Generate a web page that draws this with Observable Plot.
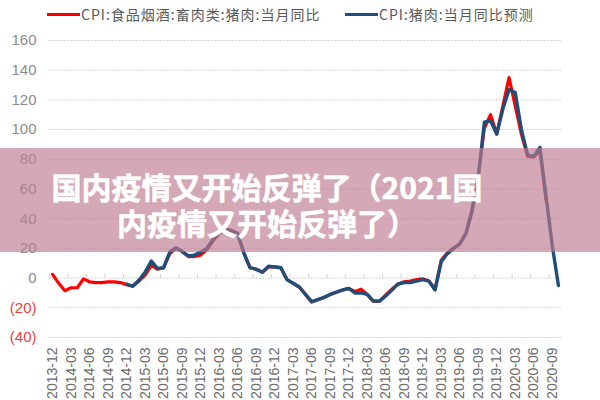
<!DOCTYPE html>
<html>
<head>
<meta charset="utf-8">
<script src="https://cdn.jsdelivr.net/npm/d3@7"></script>
<script src="https://cdn.jsdelivr.net/npm/@observablehq/plot@0.6"></script>
<style>
  html, body { margin: 0; padding: 0; background: #fff; }
  #wrap { position: relative; width: 600px; height: 400px; overflow: hidden; }
  #chart { position: absolute; left: 0; top: 0; }
  .legend { position: absolute; top: 4px; left: 0; width: 600px; height: 20px; font-family: "Noto Sans CJK SC", sans-serif; font-size: 14px; color: #595959; letter-spacing: 1px; }
  .legend .item { position: absolute; top: 0; display: flex; align-items: center; height: 20px; white-space: nowrap; }
  .legend .swatch { width: 33px; height: 3px; margin-right: 1px; }
  .banner { position: absolute; left: 0; top: 148px; width: 600px; height: 104px; background: rgba(189,121,143,0.65); }
  .banner-line { position: absolute; left: 0; width: 534px; height: 31px; text-align: center; color: #fff; font-family: "Noto Sans CJK SC", sans-serif; font-weight: 700; font-size: 30px; line-height: 31px; white-space: nowrap; -webkit-text-stroke: 0.6px #fff; }
</style>
</head>
<body>
<div id="wrap">
  <div id="chart"></div>
  <div class="legend">
    <div class="item" style="left:47px"><span class="swatch" style="background:#ff0000"></span><span>CPI:食品烟酒:畜肉类:猪肉:当月同比</span></div>
    <div class="item" style="left:345px"><span class="swatch" style="background:#1f4e79"></span><span>CPI:猪肉:当月同比预测</span></div>
  </div>
  <div class="banner"></div>
  <div class="banner-line" style="top:171px">国内疫情又开始反弹了（2021国</div>
  <div class="banner-line" style="top:207px">内疫情又开始反弹了）</div>
</div>
<script>
// Category months (index 0 = 2013-12)
const months = [
  "2013-12",
  "2014-01","2014-02","2014-03","2014-04","2014-05","2014-06","2014-07","2014-08","2014-09","2014-10","2014-11","2014-12",
  "2015-01","2015-02","2015-03","2015-04","2015-05","2015-06","2015-07","2015-08","2015-09","2015-10","2015-11","2015-12",
  "2016-01","2016-02","2016-03","2016-04","2016-05","2016-06","2016-07","2016-08","2016-09","2016-10","2016-11","2016-12",
  "2017-01","2017-02","2017-03","2017-04","2017-05","2017-06","2017-07","2017-08","2017-09","2017-10","2017-11","2017-12",
  "2018-01","2018-02","2018-03","2018-04","2018-05","2018-06","2018-07","2018-08","2018-09","2018-10","2018-11","2018-12",
  "2019-01","2019-02","2019-03","2019-04","2019-05","2019-06","2019-07","2019-08","2019-09","2019-10","2019-11","2019-12",
  "2020-01","2020-02","2020-03","2020-04","2020-05","2020-06","2020-07","2020-08","2020-09","2020-10"
];

// Tick labels shown on the x axis
const xTickLabels = [
  "2013-12","2014-03","2014-06","2014-09","2014-12","2015-03","2015-06","2015-09","2015-12",
  "2016-03","2016-06","2016-09","2016-12","2017-03","2017-06","2017-09","2017-12",
  "2018-03","2018-06","2018-09","2018-12","2019-03","2019-06","2019-09","2019-12",
  "2020-03","2020-06","2020-09"
];

const yTicks = [-40, -20, 0, 20, 40, 60, 80, 100, 120, 140, 160];

// CPI:食品烟酒:畜肉类:猪肉:当月同比 (2013-12 .. 2020-08)
const actualStart = "2013-12";
const actualValues = [
  2.5, -3.5, -8.5, -6.5, -6.5, -0.5, -2.5, -3, -3, -2.5, -2.5, -3, -4.5,
  -5.5, -2, 2, 8.5, 6, 7, 16.5, 20, 18, 14.5, 14.5, 15.5,
  19, 25, 30, 33, 32, 30, 17, 7, 6, 4, 7.5, 7.5,
  7, -1, -3.5, -6, -11, -16, -14.5, -13, -11, -9.5, -8, -7,
  -9, -7.5, -11, -15.5, -15.5, -11.5, -7.5, -4, -2.5, -2, -1, -0.5,
  -2, -7.5, 12, 17, 20, 23, 30, 46, 69, 101, 110, 97,
  116, 135, 116, 97, 82, 81.5, 85.5, 52.5
];

// CPI:猪肉:当月同比预测 (2014-12 .. 2020-10)
const forecastStart = "2014-12";
const forecastValues = [
  -4,
  -5.5, -1.5, 4, 11.5, 6.5, 7, 17.5, 20.5, 18, 15, 15.5, 17.5,
  20, 26, 30, 33, 32, 30, 17, 7, 6, 4, 8, 7.5,
  7, -1, -3.5, -6, -11, -16, -14.5, -13, -11, -9.5, -8, -7,
  -10, -10, -11, -15.5, -15.5, -12, -8, -4, -3, -3, -2, -1,
  -2, -8, 11, 16.5, 20, 23, 30, 45, 68, 105, 106, 97,
  114, 127, 125, 100, 83, 82, 88, 55, 22, -5
];

const toRows = (start, vals) => {
  const s = months.indexOf(start);
  return vals.map((v, i) => ({i: s + i, month: months[s + i], v}));
};
const actual = toRows(actualStart, actualValues);
const forecast = toRows(forecastStart, forecastValues);
const xTickIdx = xTickLabels.map(l => months.indexOf(l));
const zeroTicks = xTickIdx.map(i => ({x: i - 0.5}));

const chart = Plot.plot({
  width: 600,
  height: 400,
  marginTop: 40,
  marginBottom: 63,
  marginLeft: 49,
  marginRight: 39,
  style: {background: "transparent", fontFamily: "'Liberation Sans', Arial, sans-serif"},
  x: {type: "linear", domain: [-0.5, months.length - 0.5]},
  y: {domain: [-40, 160]},
  marks: [
    Plot.gridY(yTicks, {stroke: "#d4d4d4", strokeOpacity: 1, strokeDasharray: "2,1"}),
    Plot.ruleX(zeroTicks, {x: "x", y1: 0, y2: 2.5, stroke: "#cfcfcf"}),
    Plot.axisY(yTicks, {
      tickSize: 0, tickPadding: 13, label: null, fontSize: 15,
      tickFormat: v => v < 0 ? `(${-v})` : `${v}`,
      fill: v => v < 0 ? "#e8413d" : "#8c8c8c"
    }),
    Plot.axisX(xTickIdx, {
      tickSize: 0, tickPadding: 10, tickRotate: -90, label: null, fontSize: 14,
      tickFormat: i => months[i], fill: "#6b6b6b"
    }),
    Plot.lineY(actual, {x: "i", y: "v", stroke: "#ff0000", strokeWidth: 3.2, strokeLinejoin: "round"}),
    Plot.lineY(forecast, {x: "i", y: "v", stroke: "#1f4e79", strokeWidth: 3.4, strokeLinejoin: "round"})
  ]
});
document.getElementById("chart").appendChild(chart);
</script>
</body>
</html>
